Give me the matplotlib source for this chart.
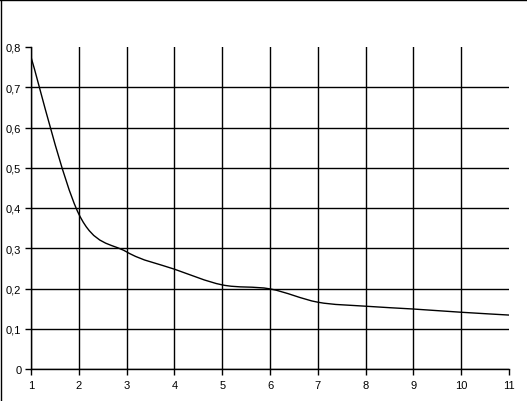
import numpy as np
import matplotlib
matplotlib.use('Agg')
import matplotlib.pyplot as plt
from matplotlib.path import Path
from matplotlib.patches import PathPatch
from matplotlib.lines import Line2D

plt.rcParams['font.family'] = ['Liberation Sans', 'DejaVu Sans']

# values
x_vals = [1, 2, 3, 4, 5, 6, 7, 8, 9, 10, 11]
y_vals = [0.775, 0.385, 0.291, 0.248, 0.209, 0.199, 0.166, 0.156, 0.149, 0.141, 0.134]
y_ticks = [0, 0.1, 0.2, 0.3, 0.4, 0.5, 0.6, 0.7, 0.8]
y_labels = ['0', '0,1', '0,2', '0,3', '0,4', '0,5', '0,6', '0,7', '0,8']


def smooth_path(xs, ys):
    # Excel-like smoothed line: cubic bezier segments with Catmull-Rom tangents
    pts = np.column_stack([xs, ys]).astype(float)
    n = len(pts)
    verts = [pts[0]]
    codes = [Path.MOVETO]
    for i in range(n - 1):
        p0 = pts[i - 1] if i > 0 else pts[i]
        p1 = pts[i]
        p2 = pts[i + 1]
        p3 = pts[i + 2] if i + 2 < n else pts[i + 1]
        c1 = p1 + (p2 - p0) / 6.0
        c2 = p2 - (p3 - p1) / 6.0
        verts += [c1, c2, p2]
        codes += [Path.CURVE4] * 3
    return Path(verts, codes)


fig = plt.figure(figsize=(5.27, 4.02), dpi=100)
ax = fig.add_axes([31 / 527, 32 / 402, 478 / 527, 322 / 402])

ax.add_patch(PathPatch(smooth_path(x_vals, y_vals), facecolor='none',
                       edgecolor='black', linewidth=1.0, zorder=3))

ax.set_xlim(1, 11)
ax.set_ylim(0, 0.8)
ax.set_xticks(x_vals)
ax.set_xticklabels([str(v) for v in x_vals])
ax.set_yticks(y_ticks)
ax.set_yticklabels(y_labels)

ax.grid(True, color='black', linewidth=1.0)
ax.xaxis.get_gridlines()[-1].set_visible(False)
ax.yaxis.get_gridlines()[-1].set_visible(False)

for s in ['top', 'right']:
    ax.spines[s].set_visible(False)
for s in ['left', 'bottom']:
    ax.spines[s].set_linewidth(1.0)

ax.tick_params(axis='both', direction='out', length=4, width=1.0,
               labelsize=8, colors='black')
ax.tick_params(axis='y', pad=3)
ax.tick_params(axis='x', pad=4)

# outer frame (top and left edges visible in the reference)
fig.add_artist(Line2D([0, 1], [1 - 0.5 / 402, 1 - 0.5 / 402], color='black', linewidth=1.0))
fig.add_artist(Line2D([0.5 / 527, 0.5 / 527], [0, 1], color='black', linewidth=1.0))

fig.savefig('out.png', dpi=100)
